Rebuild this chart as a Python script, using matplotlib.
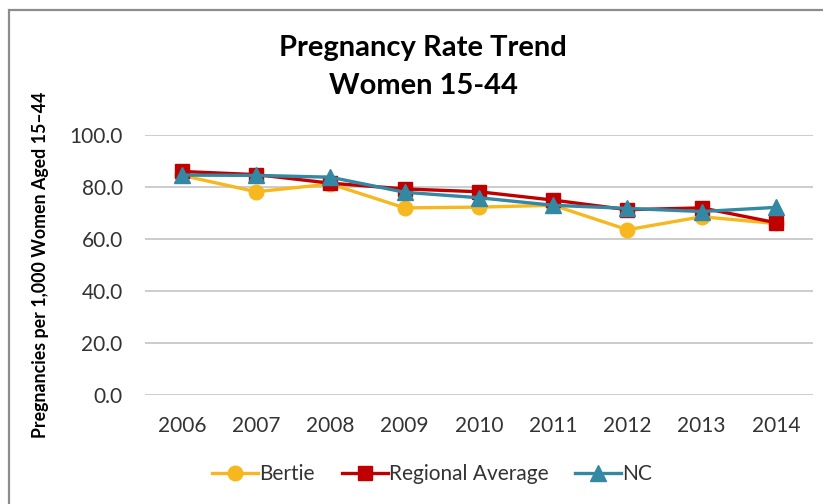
import matplotlib.pyplot as plt
from matplotlib.patches import Rectangle

#===Data===#
years = ['2006', '2007', '2008', '2009', '2010', '2011', '2012', '2013', '2014']
bertie = [84.5, 78.2, 81.2, 72.0, 72.3, 73.0, 63.6, 68.6, 66.0]
regional = [86.0, 84.8, 81.5, 79.3, 78.2, 75.0, 71.3, 72.0, 66.3]
nc = [84.6, 84.5, 83.8, 78.0, 75.9, 73.0, 71.8, 70.6, 72.2]

plt.rcParams['font.family'] = ['Lato', 'DejaVu Sans']

fig = plt.figure(figsize=(8.23, 5.04), dpi=100)
ax = fig.add_axes([0.176, 0.216, 0.812, 0.516])

#===Lines===#
x = list(range(len(years)))
ax.plot(x, bertie, color='#F6B81E', lw=2.4, marker='o', ms=10.5, label='Bertie', clip_on=False, zorder=3)
ax.plot(x, regional, color='#C00000', lw=2.4, marker='s', ms=10, label='Regional Average', clip_on=False, zorder=4)
ax.plot(x, nc, color='#3388A3', lw=2.4, marker='^', ms=11, label='NC', clip_on=False, zorder=5)

#===Axes===#
ax.set_xlim(-0.5, len(years) - 0.5)
ax.set_ylim(0, 100)
ax.set_yticks([0, 20, 40, 60, 80, 100])
ax.set_yticklabels(['%.1f' % v for v in [0, 20, 40, 60, 80, 100]])
ax.set_xticks(x)
ax.set_xticklabels(years)
ax.tick_params(length=0, labelsize=15, colors='#333333')
ax.tick_params(axis='x', pad=15)
ax.tick_params(axis='y', pad=16)
ax.grid(axis='y', color='#BFBFBF', lw=1.1)
ax.set_axisbelow(True)
for s in ax.spines.values():
    s.set_visible(False)

ax.set_ylabel('Pregnancies per 1,000 Women Aged 15\u201344', fontsize=12.8,
              fontweight='bold')
ax.yaxis.set_label_coords(-0.144, 0.5)

fig.text(0.514, 0.905, 'Pregnancy Rate Trend', ha='center', va='center',
         fontsize=21, fontweight='bold')
fig.text(0.514, 0.83, 'Women 15-44', ha='center', va='center',
         fontsize=21, fontweight='bold')

ax.legend(loc='center', bbox_to_anchor=(0.43, -0.305), ncol=3, frameon=False,
          fontsize=15, handlelength=2.2, handletextpad=0.05, columnspacing=1.3,
          labelcolor='#333333')

# outer frame
fig.patches.append(Rectangle((0.011, -0.05), 1.05, 1.03, transform=fig.transFigure,
                             fill=False, edgecolor='#8C8C8C', lw=1.6))

fig.savefig('out.png', dpi=100, facecolor='white')
